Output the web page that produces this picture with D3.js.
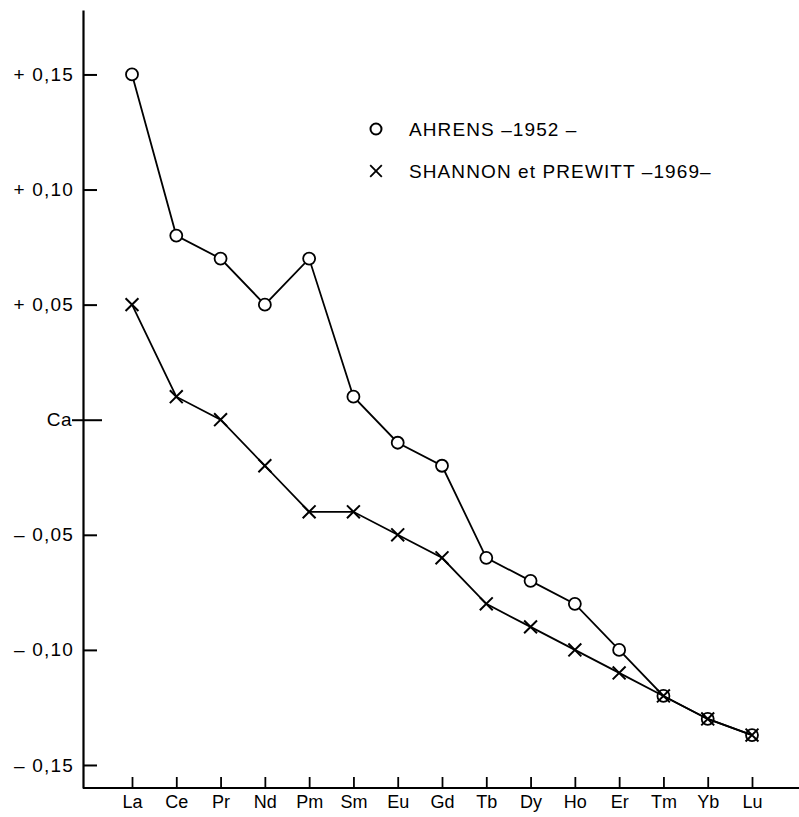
<!DOCTYPE html>
<html>
<head>
<meta charset="utf-8">
<script src="https://cdn.jsdelivr.net/npm/d3@7"></script>
<style>
  body { margin: 0; background: #fff; }
  svg { font-family: "Liberation Sans", Arial, sans-serif; }
</style>
</head>
<body>
<div id="chart"></div>
<script>
// elements along the x axis
const ELEMENTS = ["La", "Ce", "Pr", "Nd", "Pm", "Sm", "Eu", "Gd", "Tb", "Dy", "Ho", "Er", "Tm", "Yb", "Lu"];

// radius difference relative to Ca
const AHRENS = [0.15, 0.08, 0.07, 0.05, 0.07, 0.01, -0.01, -0.02, -0.06, -0.07, -0.08, -0.10, -0.12, -0.13, -0.137];
const SHANNON = [0.05, 0.01, 0.0, -0.02, -0.04, -0.04, -0.05, -0.06, -0.08, -0.09, -0.10, -0.11, -0.12, -0.13, -0.137];

const Y_TICKS = [-0.15, -0.10, -0.05, 0, 0.05, 0.10, 0.15];
const Y_TICK_LABELS = ["\u2013 0,15", "\u2013 0,10", "\u2013 0,05", "Ca", "+ 0,05", "+ 0,10", "+ 0,15"];

const LEGEND = ["AHRENS \u20131952 \u2013", "SHANNON et PREWITT \u20131969\u2013"];

const WIDTH = 799, HEIGHT = 817;
const X0 = 83, YB = 788;

let svg = d3.select("#chart")
    .append("svg")
    .attr("width", WIDTH)
    .attr("height", HEIGHT);

let x = d3.scalePoint()
    .domain(ELEMENTS)
    .range([132, 752]);

let y = d3.scaleLinear()
    .domain([-0.16, 0.178])
    .range([YB, 10]);

// y axis, ticks pointing inward
let yAxis = svg.append("g")
    .attr("transform", "translate(" + X0 + ",0)")
    .call(d3.axisLeft(y)
        .tickValues(Y_TICKS)
        .tickSizeInner(-14)
        .tickSizeOuter(0)
        .tickPadding(9)
        .tickFormat((d, i) => Y_TICK_LABELS[i]));

yAxis.select(".domain").attr("stroke-width", 2.2);
yAxis.selectAll(".tick line").attr("stroke-width", 2);
yAxis.selectAll(".tick text")
    .style("font-size", "19px")
    .style("letter-spacing", "1.2px")
    .attr("fill", "#000");
// the Ca tick crosses the axis
yAxis.selectAll(".tick").filter(d => d === 0).select("line")
    .attr("x1", -11).attr("x2", 19);
yAxis.selectAll(".tick").filter(d => d === 0).select("text")
    .attr("x", -11)
    .style("letter-spacing", "0.5px");

// x axis
let xAxis = svg.append("g")
    .attr("transform", "translate(0," + YB + ")")
    .call(d3.axisBottom(x)
        .tickSizeInner(-11)
        .tickSizeOuter(0)
        .tickPadding(7));

xAxis.select(".domain")
    .attr("d", "M" + X0 + ",0H" + WIDTH)
    .attr("stroke-width", 2.2);
xAxis.selectAll(".tick line").attr("stroke-width", 1.8);
xAxis.selectAll(".tick text")
    .style("font-size", "18px")
    .attr("fill", "#000");

const line = d3.line()
    .x((d, i) => x(ELEMENTS[i]))
    .y(d => y(d));

// data lines
[SHANNON, AHRENS].forEach(series => {
    svg.append("path")
        .datum(series)
        .attr("d", line)
        .attr("fill", "none")
        .attr("stroke", "#000")
        .attr("stroke-width", 1.8);
});

// X markers
const cross = d3.symbol().type(d3.symbolX).size(110);
svg.selectAll(".xmark")
    .data(SHANNON)
    .enter()
    .append("path")
    .attr("class", "xmark")
    .attr("d", cross)
    .attr("transform", (d, i) => "translate(" + x(ELEMENTS[i]) + "," + y(d) + ")")
    .attr("fill", "none")
    .attr("stroke", "#000")
    .attr("stroke-width", 2);

// circle markers
svg.selectAll(".omark")
    .data(AHRENS)
    .enter()
    .append("circle")
    .attr("class", "omark")
    .attr("cx", (d, i) => x(ELEMENTS[i]))
    .attr("cy", d => y(d))
    .attr("r", 6)
    .attr("fill", (d, i) => d === SHANNON[i] ? "none" : "#fff")
    .attr("stroke", "#000")
    .attr("stroke-width", 1.8);

// legend
let legend = svg.append("g");
legend.append("circle")
    .attr("cx", 376).attr("cy", 129).attr("r", 5.5)
    .attr("fill", "none").attr("stroke", "#000").attr("stroke-width", 2);
legend.append("path")
    .attr("d", d3.symbol().type(d3.symbolX).size(90))
    .attr("transform", "translate(376,171)")
    .attr("fill", "none").attr("stroke", "#000").attr("stroke-width", 1.8);
legend.selectAll("text")
    .data(LEGEND)
    .enter()
    .append("text")
    .attr("x", 409)
    .attr("y", (d, i) => 136 + i * 42)
    .style("font-size", "19px")
    .style("letter-spacing", "1.1px")
    .text(d => d);
</script>
</body>
</html>
